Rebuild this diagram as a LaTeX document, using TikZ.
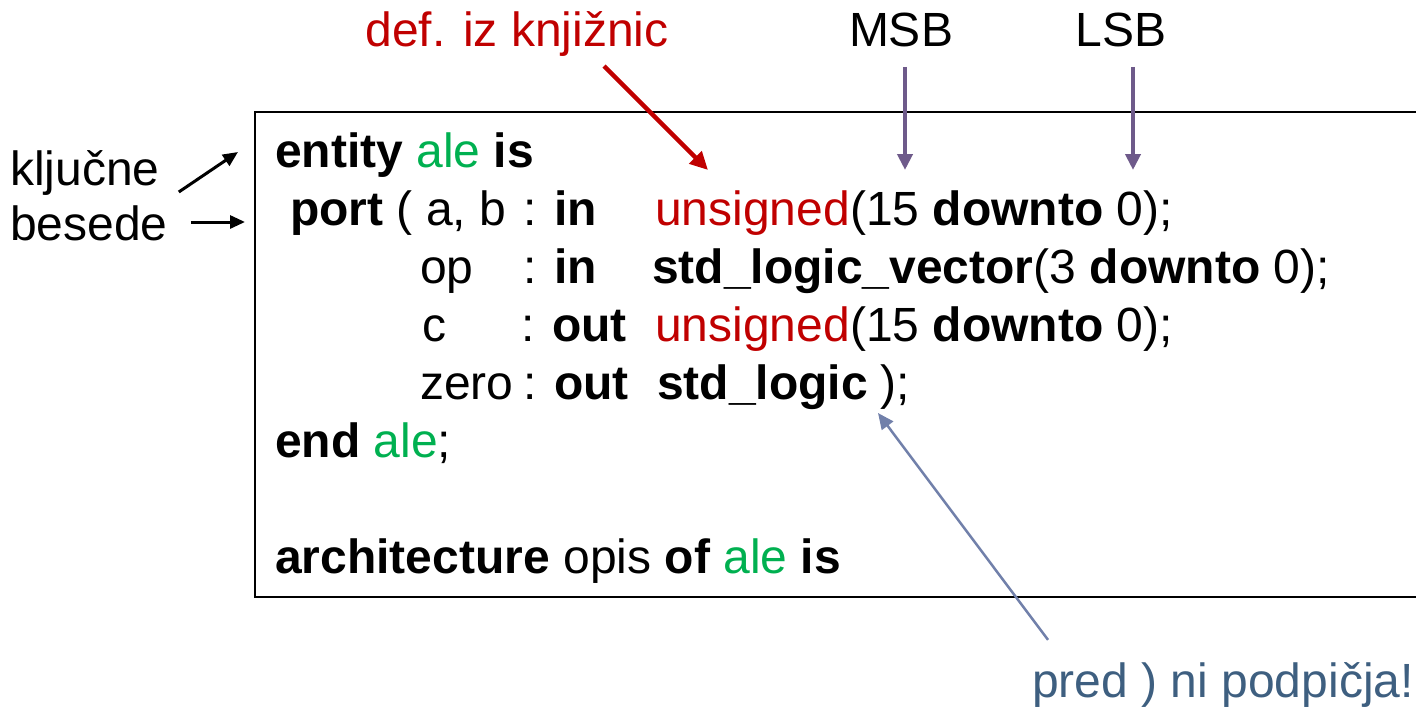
\documentclass[tikz,border=0pt]{standalone}
\usepackage{fontspec}
\setmainfont{Liberation Sans}
\usetikzlibrary{arrows.meta, positioning}

\definecolor{kwgreen}{HTML}{00B050}
\definecolor{libred}{HTML}{C00000}
\definecolor{bitpurple}{HTML}{6E5A8A}
\definecolor{notegray}{HTML}{7180AA}
\definecolor{notetext}{HTML}{3E5F80}

\begin{document}
\begin{tikzpicture}[x=1pt, y=-1pt, >=Triangle,
  every node/.style={font=\fontsize{48}{58}\selectfont, inner sep=0pt},
  code/.style={anchor=base west},
  lbl/.style={anchor=base},
  kwptr/.style={-{Triangle[length=15pt,width=13pt]}, line width=3pt},
  libptr/.style={-{Triangle[length=18pt,width=17pt]}, line width=4.5pt, draw=libred},
  bitptr/.style={-{Triangle[length=16pt,width=15pt]}, line width=4pt, draw=bitpurple},
  noteptr/.style={-{Triangle[length=16pt,width=14pt]}, line width=2.5pt, draw=notegray}]

\useasboundingbox (0,0) rectangle (1416,709);

% Code frame (right side runs off the page)
\draw[line width=2pt] (1430,112) -- (255,112) -- (255,597) -- (1430,597);

% Code lines
\node[code] (l1)  at (275,167) {\textbf{entity} \textcolor{kwgreen}{ale} \textbf{is}};
\node[code] (l2a) at (290,225) {\textbf{port} ( a, b};
\node[code] (l2b) at (523,225) {: \textbf{in}};
\node[code] (l2c) at (655,225) {\textcolor{libred}{unsigned}(15 \textbf{downto} 0);};
\node[code] (l3a) at (420,283) {op};
\node[code] (l3b) at (523,283) {: \textbf{in}};
\node[code] (l3c) at (652,283) {\textbf{std\_logic\_vector}(3 \textbf{downto} 0);};
\node[code] (l4a) at (422,341) {c};
\node[code] (l4b) at (521,341) {: \textbf{out}};
\node[code] (l4c) at (655,341) {\textcolor{libred}{unsigned}(15 \textbf{downto} 0);};
\node[code] (l5a) at (420,399) {zero};
\node[code] (l5b) at (523,399) {: \textbf{out}};
\node[code] (l5c) at (657,399) {\textbf{std\_logic}};
\node[code] (l5d) at (880,399) {);};
\node[code] (l6)  at (275,457) {\textbf{end} \textcolor{kwgreen}{ale};};
\node[code] (l8)  at (275,573) {\textbf{architecture} opis \textbf{of} \textcolor{kwgreen}{ale} \textbf{is}};

% Labels
\node[code] (kw1) at (10,185) {ključne};
\node[code] (kw2) at (10,240) {besede};
\node[lbl, text=libred] (lib) at (517,47) {def. iz knjižnic};
\node[lbl] (msb) at (901,47) {MSB};
\node[lbl] (lsb) at (1121,47) {LSB};
\node[anchor=base east, text=notetext] (note) at (1414,697) {pred ) ni podpičja!};

% Tips
\coordinate (kwtip1) at (238,152);
\coordinate (kwtip2) at (245,222);
\coordinate (libtip) at (708,170);
\coordinate (msbtip) at (905,170);
\coordinate (lsbtip) at (1133,170);
\coordinate (notetip) at (878,413);

% Arrows
\draw[kwptr] ([shift={(19,7)}]kw1.base east) -- (kwtip1);
\draw[kwptr] ([shift={(23,-18)}]kw2.base east) -- (kwtip2);
\draw[libptr] ([shift={(87,19)}]lib.base) -- (libtip);
\draw[bitptr] ([shift={(4,20)}]msb.base) -- (msbtip);
\draw[bitptr] ([shift={(12,20)}]lsb.base) -- (lsbtip);
\draw[noteptr] ([shift={(16,-22)}]note.north west) -- (notetip);

\end{tikzpicture}
\end{document}
